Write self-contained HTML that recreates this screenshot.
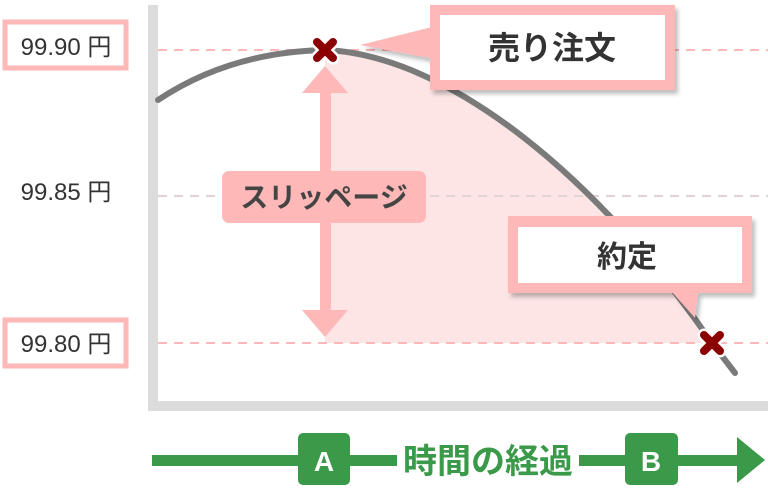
<!DOCTYPE html>
<html><head><meta charset="utf-8"><style>
body{margin:0;background:#fff;}
svg text{font-family:"Liberation Sans","Noto Sans CJK JP",sans-serif;}
</style></head><body>
<svg width="768" height="485" viewBox="0 0 768 485" xmlns="http://www.w3.org/2000/svg">
<defs><filter id="sh" x="-10%" y="-10%" width="130%" height="140%"><feDropShadow dx="3" dy="4" stdDeviation="2" flood-color="#000" flood-opacity="0.25"/></filter></defs>
<path d="M325,50 C450,55 600,180 712,343 L325,343 Z" fill="#fde5e5"/>
<line x1="158" y1="50" x2="768" y2="50" stroke="#ffb8b8" stroke-width="2" stroke-dasharray="9,7"/>
<line x1="158" y1="196" x2="768" y2="196" stroke="#e0d4d4" stroke-width="2" stroke-dasharray="9,7"/>
<line x1="158" y1="343" x2="768" y2="343" stroke="#ffb8b8" stroke-width="2" stroke-dasharray="9,7"/>
<rect x="148" y="5" width="10" height="405" fill="#dcdcdc"/>
<rect x="148" y="401" width="620" height="10" fill="#dcdcdc"/>
<path d="M158,100 Q230,52 325,50 C450,55 600,180 712,343 L735,373" fill="none" stroke="#7a7a7a" stroke-width="6" stroke-linecap="round"/>
<rect x="5" y="22" width="121" height="46" fill="#fff" stroke="#ffb8b8" stroke-width="5"/>
<text x="66" y="55" font-size="24" fill="#333" text-anchor="middle">99.90 円</text>
<text x="66" y="200" font-size="24" fill="#333" text-anchor="middle">99.85 円</text>
<rect x="5" y="320" width="121" height="46" fill="#fff" stroke="#ffb8b8" stroke-width="5"/>
<text x="66" y="352" font-size="24" fill="#333" text-anchor="middle">99.80 円</text>
<rect x="320" y="88" width="11" height="225" fill="#ffb8b8"/>
<polygon points="325,66 348,93 302,93" fill="#ffb8b8"/>
<polygon points="325,337 348,310 302,310" fill="#ffb8b8"/>
<rect x="222" y="171" width="204" height="52" rx="7" fill="#ffb8b8"/>
<text x="324" y="207" font-size="28" font-weight="bold" fill="#444" text-anchor="middle">スリッページ</text>
<g stroke="#fff" stroke-width="13" stroke-linecap="round"><path d="M317,42 L333,58 M333,42 L317,58"/><path d="M704,335 L720,351 M720,335 L704,351"/></g>
<g stroke="#8b0000" stroke-width="8" stroke-linecap="round"><path d="M317,42 L333,58 M333,42 L317,58"/><path d="M704,335 L720,351 M720,335 L704,351"/></g>
<g filter="url(#sh)">
<polygon points="360,45 440,25 440,60" fill="#ffb8b8"/>
<rect x="430" y="5" width="245" height="85" fill="#ffb8b8"/>
</g>
<rect x="440" y="15" width="225" height="65" fill="#fff"/>
<text x="552" y="59" font-size="32" font-weight="bold" fill="#333" text-anchor="middle">売り注文</text>
<g filter="url(#sh)">
<rect x="508" y="216" width="244" height="77" fill="#ffb8b8"/>
<polygon points="672,292 698,292 695,318" fill="#ffb8b8"/>
</g>
<rect x="518" y="227" width="224" height="56" fill="#fff"/>
<text x="627" y="267" font-size="30" font-weight="bold" fill="#333" text-anchor="middle">約定</text>
<rect x="152" y="455" width="588" height="11" fill="#3a9a4a"/>
<polygon points="737,437 765,460 737,483" fill="#3a9a4a"/>
<rect x="298" y="433" width="52" height="52" rx="5" fill="#3a9a4a"/>
<text x="324" y="471" font-size="28" font-weight="bold" fill="#fff" text-anchor="middle">A</text>
<rect x="625" y="433" width="53" height="52" rx="5" fill="#3a9a4a"/>
<text x="651" y="471" font-size="28" font-weight="bold" fill="#fff" text-anchor="middle">B</text>
<rect x="397" y="440" width="182" height="40" fill="#fff"/>
<text x="488" y="473" font-size="34" font-weight="bold" fill="#3a9a4a" text-anchor="middle">時間の経過</text>
</svg>
</body></html>
